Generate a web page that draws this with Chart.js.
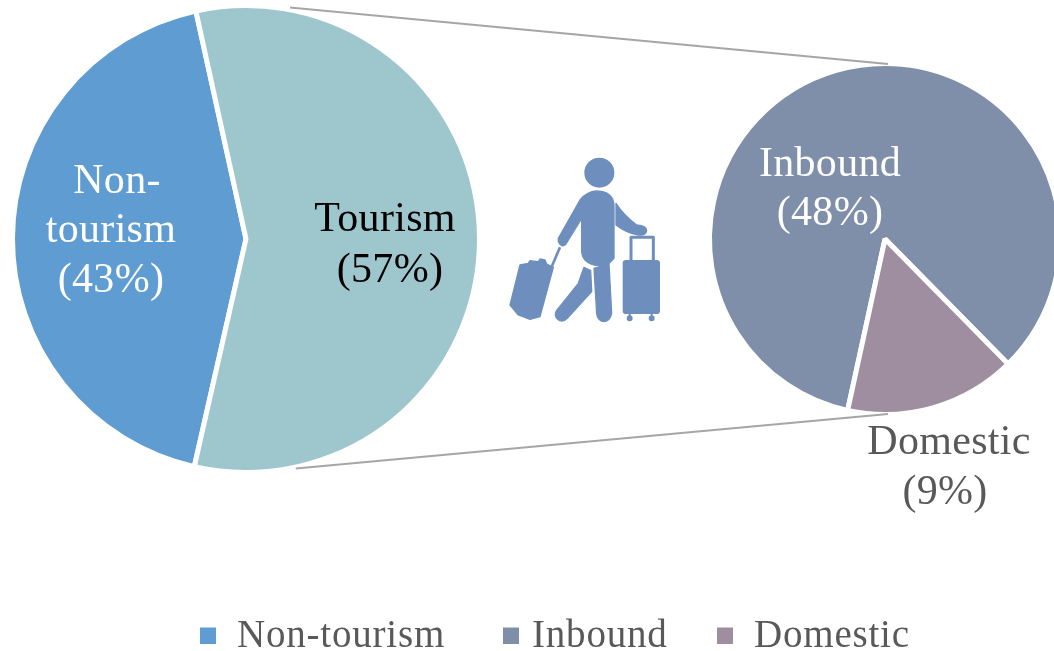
<!DOCTYPE html>
<html>
<head>
<meta charset="utf-8">
<script src="https://cdn.jsdelivr.net/npm/chart.js@4"></script>
<style>
html,body{margin:0;padding:0;background:#fff;width:1054px;height:651px;overflow:hidden}
#stage{position:relative;width:1054px;height:651px;overflow:hidden}
canvas{position:absolute}
#icon{position:absolute;left:490px;top:140px;width:190px;height:200px}
</style>
</head>
<body>
<div id="stage">
  <div style="position:absolute;left:700px;top:0;width:400px;height:651px"><canvas id="detail"></canvas></div>
  <div style="position:absolute;left:0;top:0;width:1054px;height:651px"><canvas id="main"></canvas></div>
  <svg id="icon" viewBox="0 0 570 600" fill="#6E8FBE" stroke="#6E8FBE" stroke-width="4" stroke-linejoin="round" aria-hidden="true">
    <circle cx="328" cy="98" r="43"/>
    <path d="M320 153Q372 155 372 200L372 355L355 372Q310 385 285 360Q275 350 275 330L275 235L228 312Q215 325 205 305L205 295L270 180Q290 155 320 153Z"/>
    <path d="M312 385Q335 378 357 372L365 520Q360 545 340 545Q322 540 320 520Z"/>
    <path d="M282 382L302 392L305 455L232 535Q215 552 200 535Q190 520 205 505L265 430Z"/>
    <path d="M378 190Q400 225 440 255Q470 258 470 272Q468 288 445 285Q410 280 378 255Z"/>
    <path d="M423 360L423 292L490 292L490 360" fill="none" stroke-width="9"/>
    <rect x="400" y="362" width="108" height="158" rx="8"/>
    <circle cx="419" cy="535" r="7"/><circle cx="485" cy="535" r="7"/>
    <path d="M419 518V530M485 518V530" stroke-width="6"/>
    <path d="M90 375L115 370L120 362L145 365L150 357L165 360L170 372L190 382L150 530L120 538L85 525L60 495Z"/>
    <path d="M185 380L210 322" stroke-width="8"/>
  </svg>
</div>
<script>
const mainCategories = ["Non-tourism", "Tourism"];
const mainValues = [43, 57];
const detailCategories = ["Inbound", "Domestic"];
const detailValues = [48, 9];
const legendLabels = ["Non-tourism", "Inbound", "Domestic"];

const mainColors = ["#5F9CD2", "#9DC6CD"];
const detailColors = ["#7F8FAA", "#9E8E9F"];
const legendColors = ["#5F9CD2", "#7F8FAA", "#9E8E9F"];
const legendBoxX = [200, 503, 717];
const legendTextX = [237, 532, 754];

const FONT = '"Liberation Serif", serif';
const LABEL_FONT = '42px ' + FONT;

function drawLabels(chart, items) {
  const ctx = chart.ctx;
  ctx.save();
  ctx.font = LABEL_FONT;
  ctx.letterSpacing = '0.3px';
  ctx.textAlign = 'center';
  ctx.textBaseline = 'alphabetic';
  items.forEach(function (t) {
    ctx.fillStyle = t.color;
    ctx.fillText(t.text, t.x, t.y);
  });
  ctx.restore();
}

const mainOverlay = {
  id: 'mainOverlay',
  afterDatasetsDraw(chart) {
    const ctx = chart.ctx;
    const a = chart.getDatasetMeta(0).data[0];
    const R = a.outerRadius - 2;
    const cx = a.x, cy = a.y;
    const dx = 639, r2 = 173;
    ctx.save();
    ctx.strokeStyle = '#A6A6A6';
    ctx.lineWidth = 2;
    ctx.beginPath();
    ctx.moveTo(cx + 0.19 * R, cy - R);
    ctx.lineTo(cx + dx + 3, cy - r2 - 2);
    ctx.moveTo(cx + 0.215 * R, cy + R - 2);
    ctx.lineTo(cx + dx + 3, cy + r2 + 2);
    ctx.stroke();
    ctx.restore();
    drawLabels(chart, [
      {text: 'Non-', x: 117, y: 193, color: '#FFFFFF'},
      {text: 'tourism', x: 111, y: 242, color: '#FFFFFF'},
      {text: '(' + mainValues[0] + '%)', x: 111, y: 292, color: '#FFFFFF'},
      {text: mainCategories[1], x: 385, y: 231, color: '#000000'},
      {text: '(' + mainValues[1] + '%)', x: 390, y: 282, color: '#000000'}
    ]);
    ctx.save();
    ctx.font = '39px ' + FONT;
    ctx.letterSpacing = '0.8px';
    ctx.textBaseline = 'alphabetic';
    legendLabels.forEach(function (l, i) {
      ctx.fillStyle = legendColors[i];
      ctx.fillRect(legendBoxX[i], 627.5, 16, 16.5);
      ctx.fillStyle = '#595959';
      ctx.fillText(l, legendTextX[i], 647);
    });
    ctx.restore();
  }
};

const detailOverlay = {
  id: 'detailOverlay',
  afterDatasetsDraw(chart) {
    drawLabels(chart, [
      {text: detailCategories[0], x: 130, y: 176, color: '#FFFFFF'},
      {text: '(' + detailValues[0] + '%)', x: 130, y: 225, color: '#FFFFFF'},
      {text: detailCategories[1], x: 249, y: 454, color: '#595959'},
      {text: '(' + detailValues[1] + '%)', x: 245, y: 504, color: '#595959'}
    ]);
  }
};

function pieOptions(rotation, radius, padding) {
  return {
    responsive: true,
    maintainAspectRatio: false,
    animation: false,
    events: [],
    rotation: rotation,
    radius: radius,
    layout: {padding: padding},
    plugins: {legend: {display: false}, tooltip: {enabled: false}},
    elements: {arc: {borderColor: '#FFFFFF', borderWidth: 5, hoverOffset: 0, offset: 0}}
  };
}

new Chart(document.getElementById('main'), {
  type: 'pie',
  data: {labels: mainCategories, datasets: [{data: mainValues, backgroundColor: mainColors}]},
  options: pieOptions(192.8, 233.5, {left: 12, top: 5, right: 574, bottom: 178}),
  plugins: [mainOverlay]
});

new Chart(document.getElementById('detail'), {
  type: 'pie',
  data: {labels: detailCategories, datasets: [{data: detailValues, backgroundColor: detailColors}]},
  options: pieOptions(192.3, 175.5, {left: 10, top: 64, right: 40, bottom: 237}),
  plugins: [detailOverlay]
});
</script>
</body>
</html>
